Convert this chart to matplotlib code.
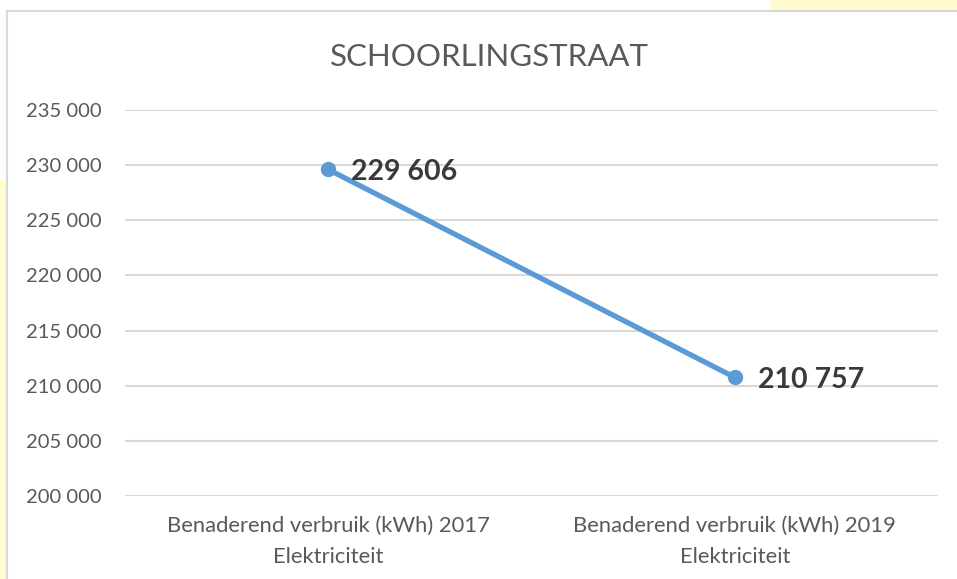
import matplotlib.pyplot as plt
from matplotlib.patches import Rectangle
from matplotlib.ticker import FuncFormatter

categories = ['Benaderend verbruik (kWh) 2017\nElektriciteit',
              'Benaderend verbruik (kWh) 2019\nElektriciteit']
values = [229606, 210757]
y_ticks = [200000, 205000, 210000, 215000, 220000, 225000, 230000, 235000]

plt.rcParams['font.family'] = ['Lato', 'DejaVu Sans']

fig = plt.figure(figsize=(9.57, 5.79), dpi=100)
fig.patch.set_facecolor('white')

# yellow page glow behind the chart box
fig.add_artist(Rectangle((0, 0), 7 / 957, 1 - 180 / 579, transform=fig.transFigure,
                         facecolor='#fffdd2', edgecolor='none', zorder=-2))
fig.add_artist(Rectangle((770 / 957, 1 - 11 / 579), 1, 11 / 579, transform=fig.transFigure,
                         facecolor='#fffbcf', edgecolor='none', zorder=-2))
# chart box border
fig.add_artist(Rectangle((6.5 / 957, -0.05), 1.1, 1 - 11 / 579 + 0.05, transform=fig.transFigure,
                         facecolor='white', edgecolor='#d9d9d9', linewidth=1.5, zorder=-1))

ax = fig.add_axes([125 / 957, 1 - 496 / 579, (938 - 125) / 957, (496 - 110) / 579])
ax.set_facecolor('none')

x = list(range(len(values)))
ax.plot(x, values, color='#5b9bd5', linewidth=3.8, marker='o', markersize=10,
        solid_capstyle='round', zorder=3)

for xi, v in zip(x, values):
    ax.annotate(f'{v:,}'.replace(',', ' '), (xi, v), xytext=(23, -3),
                textcoords='offset pixels', ha='left', va='center',
                fontsize=20.5, fontweight='bold', color='#3a3a3a')

ax.set_xlim(-0.5, 1.5)
ax.set_ylim(200000, 235000)
ax.set_yticks(y_ticks)
ax.yaxis.set_major_formatter(FuncFormatter(lambda v, p: f'{int(v):,}'.replace(',', ' ')))
ax.set_xticks(x)
ax.set_xticklabels(categories, linespacing=1.7)

ax.grid(axis='y', color='#d9d9d9', linewidth=1.5)
ax.set_axisbelow(True)
for s in ax.spines.values():
    s.set_visible(False)
ax.tick_params(axis='both', length=0, colors='#595959')
ax.tick_params(axis='y', pad=17, labelsize=14.5)
ax.tick_params(axis='x', pad=14, labelsize=15.8)

fig.text(489 / 957, 1 - 57 / 579, 'SCHOORLINGSTRAAT', ha='center', va='center',
         fontsize=22.5, color='#595959')

fig.savefig('out.png', dpi=100)
